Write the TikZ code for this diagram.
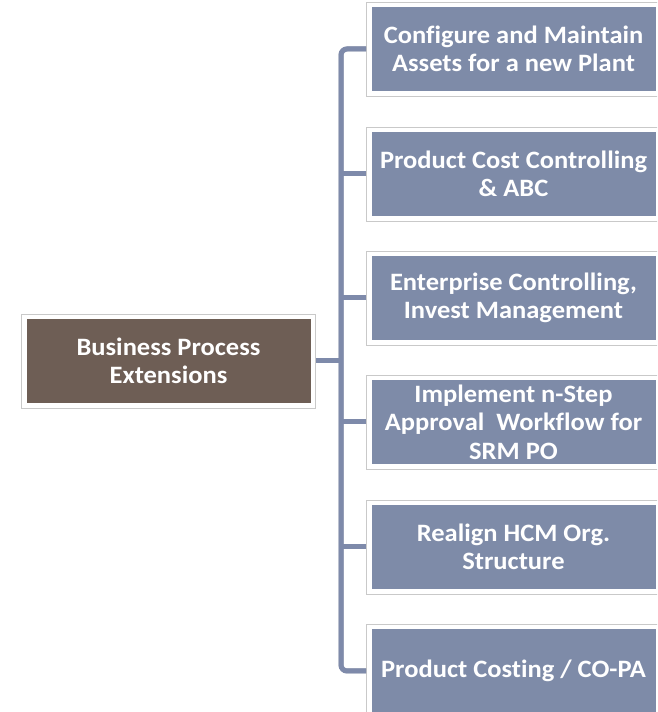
\documentclass[tikz,border=0pt]{standalone}
\usepackage{fontspec}
\setmainfont{Carlito}[Ligatures={NoCommon}, FakeStretch=1.06]
\definecolor{boxblue}{HTML}{7E8BA8}
\definecolor{boxbrown}{HTML}{6E5E55}
\definecolor{lineblue}{HTML}{7E8AAA}
\definecolor{lineshadow}{HTML}{5F6A86}
\definecolor{framegray}{HTML}{C9C9C9}
\tikzset{
  framed/.style={draw=framegray, line width=0.8pt, fill=white,
    minimum width=294pt, minimum height=94pt, inner sep=0pt, align=center,
    text=white, font=\fontsize{25}{28.5}\selectfont\bfseries,
    path picture={\fill[#1] ([shift={(5pt,5pt)}]path picture bounding box.south west)
      rectangle ([shift={(-5pt,-5pt)}]path picture bounding box.north east);}},
  conn/.style={draw=lineblue, line width=5pt},
  connshadow/.style={draw=lineshadow, line width=5pt, opacity=0.6}
}
\begin{document}
\begin{tikzpicture}[x=1pt,y=1pt]
\useasboundingbox (0,0) rectangle (657,712);
\clip (0,0) rectangle (657,712);
% nodes
\node[framed=boxbrown] (L) at (168.5,351) {Business Process\\Extensions};
\node[framed=boxblue] (r1) at (513.5,663) {Configure and Maintain\\Assets for a new Plant};
\node[framed=boxblue] (r2) at (513.5,538) {Product Cost Controlling\\\& ABC};
\node[framed=boxblue] (r3) at (513.5,414) {Enterprise Controlling,\\Invest Management};
\node[framed=boxblue] (r4) at (513.5,290) {Implement n-Step\\Approval\ \ Workflow for\\SRM PO};
\node[framed=boxblue] (r5) at (513.5,165) {Realign HCM Org.\\Structure};
\node[framed=boxblue] (r6) at (513.5,41) {Product Costing / CO-PA};
\coordinate (bus) at (341,351);
% connector shadows
\begin{scope}[shift={(1.2pt,-1.2pt)}]
\draw[connshadow, rounded corners=6pt] (r1.west) -- (r1.west -| bus) -- (r6.west -| bus) -- (r6.west);
\foreach \n in {r2,r3,r4,r5} \draw[connshadow] (\n.west) -- (\n.west -| bus);
\draw[connshadow] (L.east) -- (bus);
\end{scope}
% connectors
\draw[conn, rounded corners=6pt] (r1.west) -- (r1.west -| bus) -- (r6.west -| bus) -- (r6.west);
\foreach \n in {r2,r3,r4,r5} \draw[conn] (\n.west) -- (\n.west -| bus);
\draw[conn] (L.east) -- (bus);
\end{tikzpicture}
\end{document}
